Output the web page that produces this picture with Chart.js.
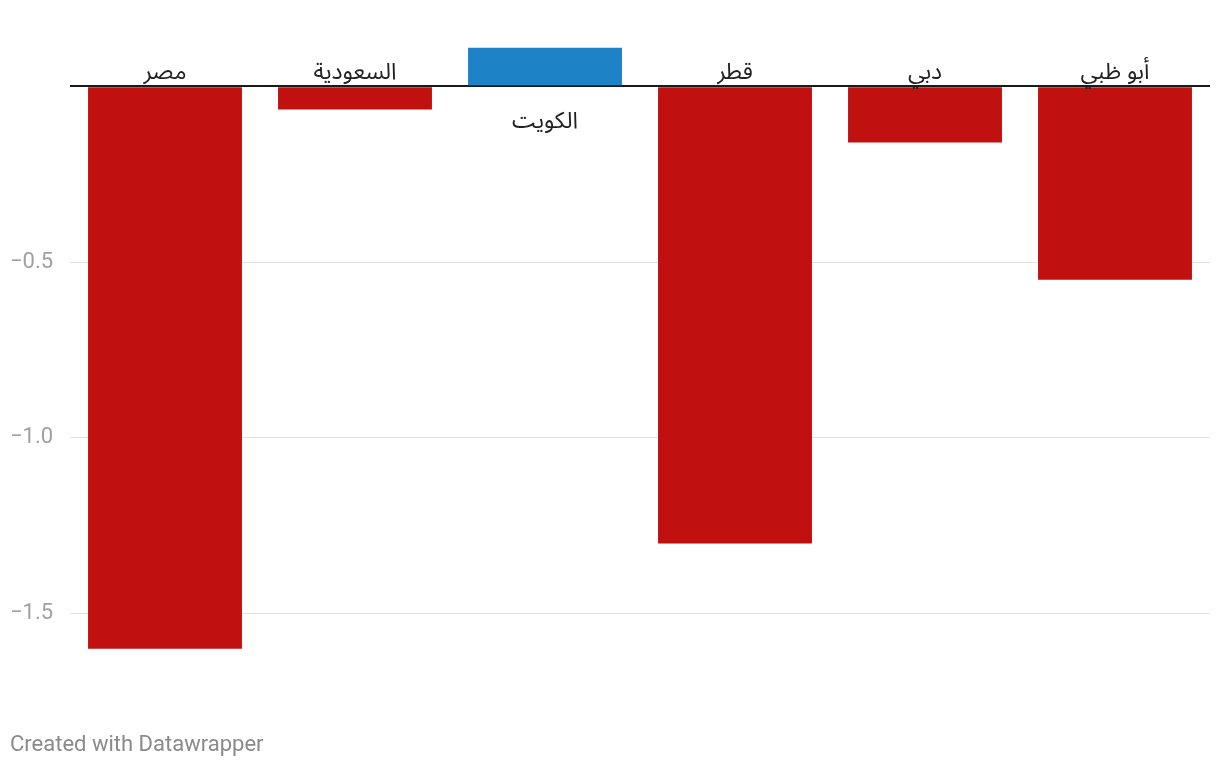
<!DOCTYPE html>
<html>
<head>
<meta charset="utf-8">
<script src="https://cdn.jsdelivr.net/npm/chart.js@4"></script>
<style>
  html, body { margin: 0; padding: 0; background: #fff; }
  #wrap { width: 1220px; height: 768px; position: relative; }
</style>
</head>
<body>
<div id="wrap"><canvas id="c" width="1220" height="768"></canvas></div>
<script>
const categories = ["مصر", "السعودية", "الكويت", "قطر", "دبي", "أبو ظبي"];
const values = [-1.6, -0.066, 0.11, -1.3, -0.16, -0.55];
const tickValues = [-1.5, -1.0, -0.5, 0];
const footerText = "Created with Datawrapper";

const labelFont = '23px "Noto Sans Arabic", "Noto Sans", "DejaVu Sans", sans-serif';

const labelPlugin = {
  id: 'catLabels',
  afterDatasetsDraw(chart) {
    const ctx = chart.ctx;
    const meta = chart.getDatasetMeta(0);
    const yScale = chart.scales.y;
    const zeroY = yScale.getPixelForValue(0);
    ctx.save();
    ctx.font = labelFont;
    ctx.fillStyle = '#222';
    ctx.textAlign = 'center';
    meta.data.forEach((bar, i) => {
      const v = values[i];
      if (v < 0) {
        ctx.textBaseline = 'alphabetic';
        ctx.fillText(categories[i], bar.x, zeroY - 7);
      } else {
        ctx.textBaseline = 'middle';
        ctx.fillText(categories[i], bar.x, zeroY + 38);
      }
    });
    ctx.font = '22px Roboto, sans-serif';
    ctx.fillStyle = '#8a8a8a';
    ctx.textAlign = 'left';
    ctx.textBaseline = 'middle';
    ctx.fillText(footerText, 10, 745);
    ctx.restore();
  }
};

new Chart(document.getElementById('c'), {
  type: 'bar',
  data: {
    labels: categories,
    datasets: [{
      data: values,
      backgroundColor: (c) => (c.raw >= 0 ? '#1d83c6' : '#c11010'),
      borderWidth: 0,
      categoryPercentage: 1,
      barPercentage: 0.81
    }]
  },
  options: {
    responsive: false,
    animation: false,
    layout: { padding: { left: 10, right: 10, top: 1, bottom: 84 } },
    plugins: { legend: { display: false }, tooltip: { enabled: false } },
    scales: {
      x: { display: false },
      y: {
        min: -1.7,
        max: 0.174,
        afterBuildTicks: (s) => { s.ticks = tickValues.map(v => ({ value: v })); },
        afterFit: (s) => { s.width = 60; },
        border: { display: false },
        grid: {
          drawTicks: false,
          color: (c) => (c.tick && c.tick.value === 0 ? '#1a1a1a' : '#e2e2e2'),
          lineWidth: (c) => (c.tick && c.tick.value === 0 ? 2 : 1)
        },
        ticks: {
          crossAlign: 'far',
          padding: 12,
          color: '#a0a0a0',
          font: { family: 'Roboto', size: 22 },
          callback: (v) => (v === 0 ? '' : '\u2212' + Math.abs(v).toFixed(1))
        }
      }
    }
  },
  plugins: [labelPlugin]
});
</script>
</body>
</html>
